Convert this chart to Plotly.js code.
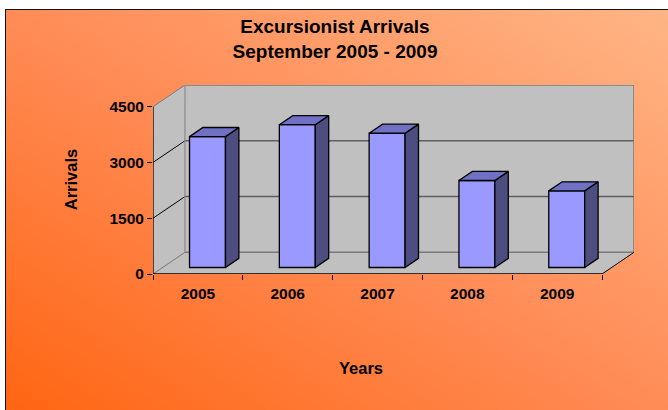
<!DOCTYPE html>
<html>
<head>
<meta charset="utf-8">
<script src="https://cdn.plot.ly/plotly-3.0.1.min.js"></script>
<style>
  html, body { margin: 0; padding: 0; background: #ffffff; }
  #wrap { position: relative; width: 668px; height: 410px; overflow: hidden; background: #ffffff; }
  #bg { position: absolute; left: 5px; top: 9px; right: -2px; bottom: -2px;
        border-top: 1.5px solid #111; border-left: 1.5px solid #111;
        background: linear-gradient(to top right, #FF6512 0%, #FF8C57 50%, #FFB585 100%); }
  #chart { position: absolute; left: 0; top: 0; width: 668px; height: 410px; }
</style>
</head>
<body>
<div id="wrap"><div id="bg"></div><div id="chart"></div></div>
<script>
// ---- data ----
var years = [2005, 2006, 2007, 2008, 2009];
var arrivals = [3520, 3840, 3610, 2340, 2060];
var yTicks = [0, 1500, 3000, 4500];
var yMax = 4500;

// ---- 3D styling constants (projection of depth onto axis units) ----
var DX = 0.356, DY = 583;          // full floor depth vector
var FRONT = 0.30, DEPTH = 0.42;    // bar front position & bar depth (fractions of floor depth)
var BW = 0.4;                      // bar width (category units)
var x0 = years[0] - 0.5, x1 = years[years.length - 1] + 0.5;

var fdx = FRONT * DX, fdy = FRONT * DY;
var bdx = DEPTH * DX, bdy = DEPTH * DY;

var traces = [];
traces.push({
  type: 'bar', x: years, y: arrivals, base: fdy, width: BW, offset: -BW / 2 + fdx,
  marker: { color: '#9999FF', line: { color: '#000000', width: 1.3 } },
  hoverinfo: 'x+y', showlegend: false
});
years.forEach(function (yr, i) {
  var v = arrivals[i];
  var L = yr - BW / 2 + fdx, R = L + BW;
  traces.push({
    type: 'scatter', mode: 'lines', fill: 'toself', fillcolor: '#4D4D80',
    x: [R, R + bdx, R + bdx, R, R], y: [fdy, fdy + bdy, fdy + bdy + v, fdy + v, fdy],
    line: { color: '#000000', width: 1.3 }, hoverinfo: 'skip', showlegend: false
  });
  traces.push({
    type: 'scatter', mode: 'lines', fill: 'toself', fillcolor: '#7070C4',
    x: [L, R, R + bdx, L + bdx, L], y: [fdy + v, fdy + v, fdy + v + bdy, fdy + v + bdy, fdy + v],
    line: { color: '#000000', width: 1.3 }, hoverinfo: 'skip', showlegend: false
  });
});

var shapes = [];
function path(pts) {
  return 'M' + pts.map(function (p) { return p[0] + ',' + p[1]; }).join('L') + 'Z';
}
function seg(xa, ya, xb, yb, color, w, layer) {
  shapes.push({ type: 'line', xref: 'x', yref: 'y', x0: xa, y0: ya, x1: xb, y1: yb,
    line: { color: color, width: w }, layer: layer || 'below' });
}
// walls and floor
shapes.push({ type: 'path', xref: 'x', yref: 'y', layer: 'below', fillcolor: '#C0C0C0',
  line: { width: 0 }, path: path([[x0 + DX, DY], [x1 + DX, DY], [x1 + DX, yMax + DY], [x0 + DX, yMax + DY]]) });
shapes.push({ type: 'path', xref: 'x', yref: 'y', layer: 'below', fillcolor: '#C0C0C0',
  line: { width: 0 }, path: path([[x0, 0], [x0 + DX, DY], [x0 + DX, yMax + DY], [x0, yMax]]) });
shapes.push({ type: 'path', xref: 'x', yref: 'y', layer: 'below', fillcolor: '#C0C0C0',
  line: { width: 0 }, path: path([[x0, 0], [x1, 0], [x1 + DX, DY], [x0 + DX, DY]]) });
// back wall grid lines and edges
yTicks.forEach(function (t) {
  var isEdge = (t === 0 || t === yMax);
  seg(x0 + DX, t + DY, x1 + DX, t + DY, isEdge ? '#7A7A7A' : '#5E5E5E', 1.5);
  seg(x0, t, x0 + DX, t + DY, isEdge ? '#7A7A7A' : '#000000', 1);
});
seg(x0 + DX, DY, x0 + DX, yMax + DY, '#8A8A8A', 1.2);
seg(x1 + DX, DY, x1 + DX, yMax + DY, '#7A7A7A', 1.5);
seg(x1, 0, x1 + DX, DY, '#000000', 1);
// front axes
seg(x0, 0, x1, 0, '#000000', 1.3, 'above');
seg(x0, 0, x0, yMax, '#000000', 1.3, 'above');

var font = { family: 'Liberation Sans, Arial, sans-serif', color: '#000000', weight: 700 };
var layout = {
  width: 668, height: 410,
  margin: { l: 153, r: 34, t: 85, b: 136 },
  paper_bgcolor: 'rgba(0,0,0,0)', plot_bgcolor: 'rgba(0,0,0,0)',
  showlegend: false,
  title: {
    text: 'Excursionist Arrivals<br>September 2005 - 2009',
    font: Object.assign({}, font, { size: 19 }),
    xref: 'container', yref: 'container', x: 0.5015, y: 1 - 33 / 410, yanchor: 'top', xanchor: 'center'
  },
  xaxis: {
    range: [x0, x1 + DX], tickmode: 'array', tickvals: years, ticktext: years.map(String),
    ticks: '', showgrid: false, zeroline: false, showline: false,
    ticklabelstandoff: 8,
    tickfont: Object.assign({}, font, { size: 15.5 }),
    minor: { tickmode: 'linear', tick0: x0, dtick: 1, ticks: 'outside', ticklen: 5, tickwidth: 1, tickcolor: '#000000' }
  },
  yaxis: {
    range: [0, yMax + DY], tickmode: 'array', tickvals: yTicks,
    ticks: 'outside', ticklen: 5, tickwidth: 1, tickcolor: '#000000',
    showgrid: false, zeroline: false, showline: false,
    tickfont: Object.assign({}, font, { size: 15.5 }),
    title: { text: 'Arrivals', font: Object.assign({}, font, { size: 16.5 }), standoff: 27 }
  },
  annotations: [{
    text: 'Years', xref: 'paper', yref: 'paper', x: (361 - 153) / 481, y: (274 - 368) / 189,
    xanchor: 'center', yanchor: 'middle', showarrow: false,
    font: Object.assign({}, font, { size: 16.5 })
  }],
  shapes: shapes,
  bargap: 0
};
Plotly.newPlot('chart', traces, layout, { displayModeBar: false, staticPlot: true });
</script>
</body>
</html>
